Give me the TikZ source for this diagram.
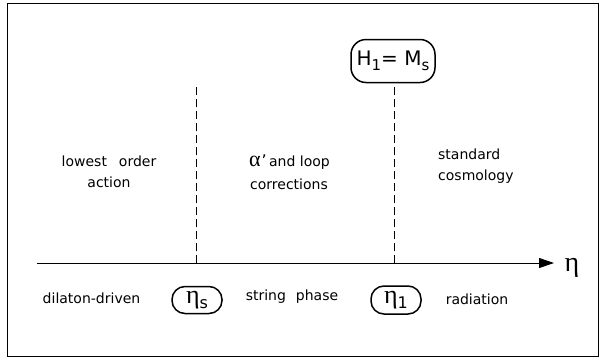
\documentclass[tikz,border=0pt]{standalone}
\usepackage{fontspec}
\setmainfont{DejaVu Sans}
\newfontfamily\grk{Liberation Serif}
\usetikzlibrary{arrows.meta}
\begin{document}
\begin{tikzpicture}[x=1pt,y=1pt,
  lbl/.style={font=\fontsize{14}{21}\selectfont, inner sep=0pt},
  tbox/.style={draw, line width=1.5pt, rounded corners=13pt, inner sep=0pt, font=\fontsize{14}{14}\selectfont},
  vline/.style={dash pattern=on 8pt off 4pt, line width=0.8pt},
  frm/.style={draw, line width=0.8pt, inner sep=0pt, anchor=north west}]
\useasboundingbox (0,0) rectangle (600,-360);
\node[frm, minimum width=591pt, minimum height=353pt] (frame) at (7,-3) {};
% axis
\coordinate (a0) at (37,-263);
\coordinate (a1) at (554,-263);
\draw[line width=0.9pt, -{Triangle[length=15pt,width=10pt]}] (a0) -- (a1);
\node (eta) at (572,-268) {\grk\fontsize{28}{28}\selectfont η};
% boxes
\node[tbox, rounded corners=15pt, minimum width=84pt, minimum height=43pt] (H) at (393,-61)
  {\fontsize{20}{20}\selectfont H\raisebox{-5pt}{\fontsize{15}{15}\selectfont 1}= M\raisebox{-5pt}{\fontsize{15}{15}\selectfont s}};
\node[tbox, minimum width=50pt, minimum height=27pt] (es) at (197,-300)
  {{\grk\fontsize{26}{26}\selectfont η}\raisebox{-5pt}{\fontsize{16}{16}\selectfont s}};
\node[tbox, minimum width=50pt, minimum height=28pt] (e1) at (396,-300)
  {{\grk\fontsize{26}{26}\selectfont η}\raisebox{-5pt}{\fontsize{16}{16}\selectfont 1}};
% dashed lines
\coordinate (ts) at (196,-263);
\coordinate (tsTop) at (196,-87);
\coordinate (t1) at (394,-263);
\draw[vline] (ts) -- (tsTop);
\draw[vline, shorten >=4pt] (t1) -- (t1 |- H.south);
% region labels
\node[lbl, align=center] (l1) at (109,-172) {lowest\hspace{12pt}order\\action};
\node[lbl, align=left, anchor=west] (l2) at (249,-172)
  {{\grk\fontsize{22}{22}\selectfont α}\kern1pt{\fontsize{16}{16}\selectfont\char"27}\,and loop\\[2pt]\kern1pt corrections};
\node[lbl, align=left, anchor=west] (l3) at (438,-166) {standard\\cosmology};
\node[lbl] (p1) at (91.5,-298) {dilaton-driven};
\node[lbl] (p2) at (292,-297) {string\hspace{10pt}phase};
\node[lbl] (p3) at (477,-299) {radiation};
\end{tikzpicture}
\end{document}
